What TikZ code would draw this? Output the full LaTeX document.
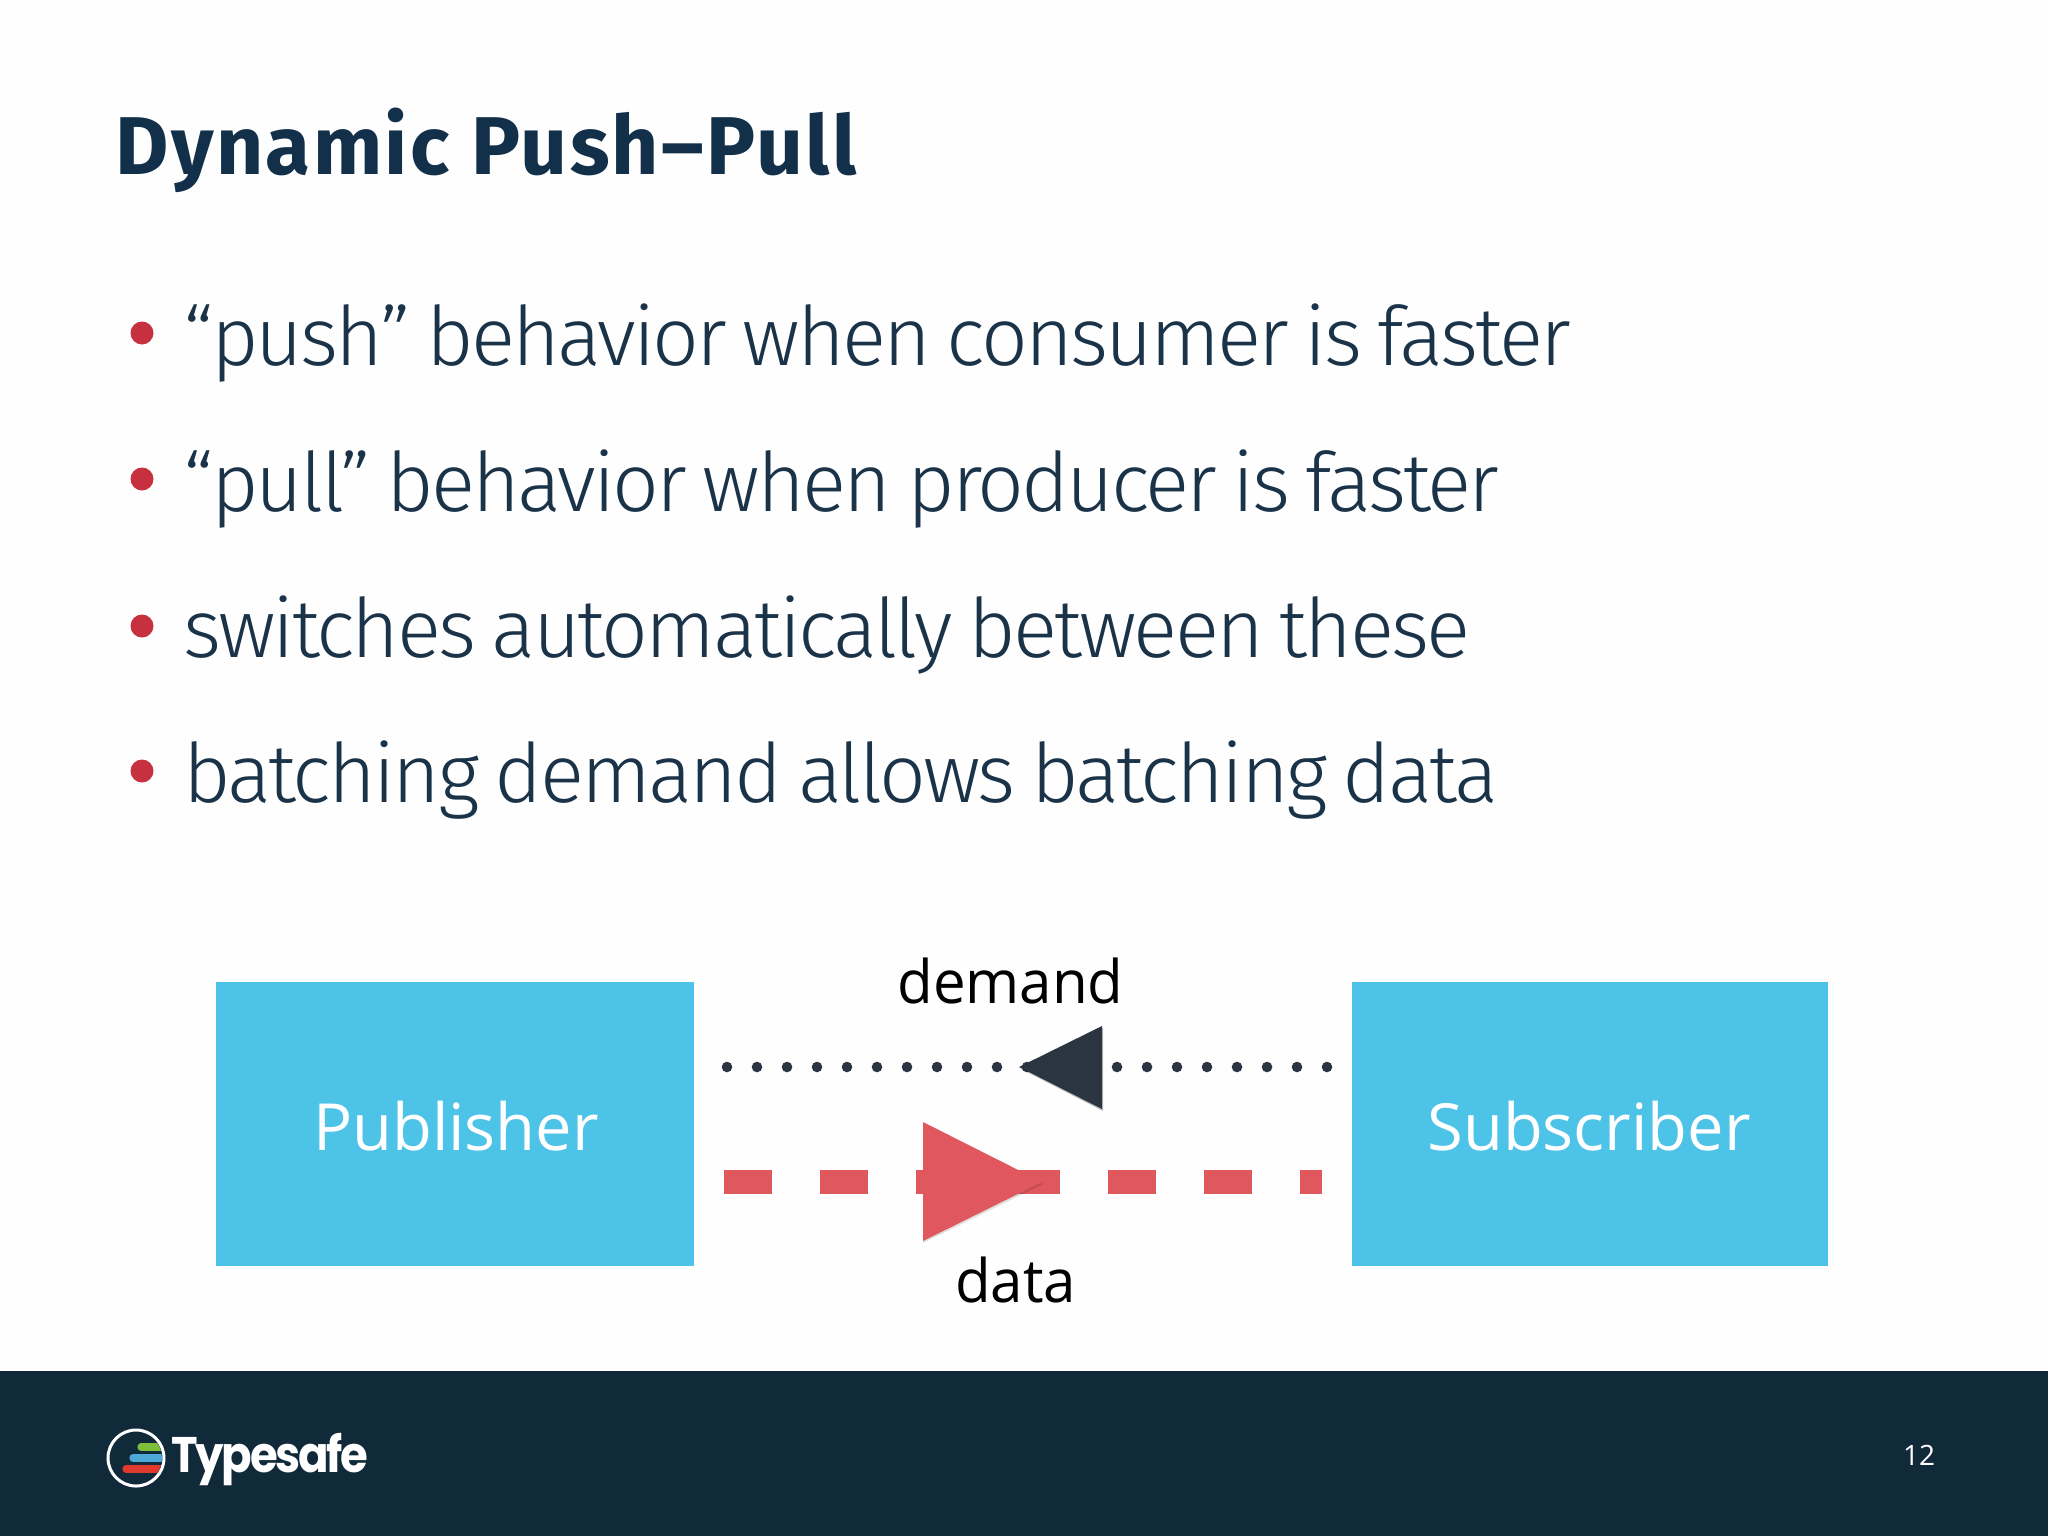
\documentclass[tikz,border=0pt]{standalone}
\usepackage{fontspec}
\setmainfont{Open Sans}
\newfontfamily\bodyfont[LetterSpace=-3.4,WordSpace=0.78]{Fira Sans Light}
\newfontfamily\titlefont[LetterSpace=2.9]{Fira Sans}
\newfontfamily\labelfont{Open Sans}
\newfontfamily\logofont[LetterSpace=-5]{Poppins}
\definecolor{navy}{HTML}{112A3A}
\definecolor{titlecol}{HTML}{13304A}
\definecolor{bodycol}{HTML}{1A3349}
\definecolor{bulletcol}{HTML}{C7303E}
\definecolor{boxcol}{HTML}{4DC3E8}
\definecolor{redcol}{HTML}{E0585D}
\definecolor{darkcol}{HTML}{2B3542}
\definecolor{logogreen}{HTML}{7DBF3A}
\definecolor{logoblue}{HTML}{4DA8D8}
\definecolor{logored}{HTML}{E03A2F}
\tikzset{
  x=0.5pt,y=-0.5pt,
  bodyline/.style={anchor=base west,inner sep=0pt,text=bodycol,font=\bodyfont\fontsize{41}{41}\selectfont},
  bulletdot/.style={circle,fill=bulletcol,inner sep=0pt,minimum size=11.5pt},
  actor/.style={fill=boxcol,inner sep=0pt},
  actorlabel/.style={anchor=base,inner sep=0pt,text=white,font=\labelfont\fontsize{32.5}{33}\selectfont},
  linklabel/.style={inner sep=0pt,anchor=base,text=black,font=\labelfont\fontsize{30}{30}\selectfont},
  demandline/.style={draw=darkcol,line width=5.3pt,line cap=round,dash pattern=on 0pt off 15pt},
  dataline/.style={draw=redcol,line width=12pt,dash pattern=on 24pt off 24pt},
}
\begin{document}
\begin{tikzpicture}
\useasboundingbox (0,0) rectangle (2048,1536);
\fill[white!99.6!black] (0,0) rectangle (2048,1536);
\fill[navy] (0,1371) rectangle (2048,1536);

\node[anchor=base west,inner sep=0pt,text=titlecol,font=\titlefont\bfseries\fontsize{41}{41}\selectfont] (title) at (115,174) {Dynamic Push–Pull};

\node[bulletdot] (b1) at (142,333) {};
\node[bulletdot] (b2) at (142,479) {};
\node[bulletdot] (b3) at (142,626) {};
\node[bulletdot] (b4) at (142,771) {};
\node[bodyline] (t1) at (183,365) {“push” behavior when consumer is faster};
\node[bodyline] (t2) at (183,511) {“pull” behavior when producer is faster};
\node[bodyline] (t3) at (183,657) {switches automatically between these};
\node[bodyline] (t4) at (183,802) {batching demand allows batching data};

\node[actor,minimum width=239pt,minimum height=142pt] (pub) at (455,1124) {};
\node[actor,minimum width=238pt,minimum height=142pt] (sub) at (1590,1124) {};
\node[actorlabel] (publabel) at (456,1150) {Publisher};
\node[actorlabel] (sublabel) at (1589,1150) {Subscriber};

\coordinate (dL) at (727,1067);
\coordinate (dR) at (1328,1067);
\coordinate (rL) at (724,1182);
\coordinate (rR) at (1322,1182);
\draw[demandline] (dL) -- (dR);
\draw[dataline] (rL) -- (rR);

\fill[black,opacity=.25] (1021,1069) -- (1103,1028) -- (1103,1111) -- cycle;
\fill[darkcol] (1019,1067) -- (1102,1026) -- (1102,1109) -- cycle;
\fill[black,opacity=.12] (923,1124) -- (1043,1184) -- (923,1243) -- cycle;
\fill[redcol] (923,1122) -- (1042,1182) -- (923,1241) -- cycle;

\node[linklabel] (demand) at (1010.5,1003) {\scalebox{0.97}[1]{demand}};
\node[linklabel] (data) at (1015.5,1302) {\scalebox{0.97}[1]{data}};

% logo
\draw[white,line width=1.5pt] (136,1458) circle (28);
\begin{scope}
\clip (136,1458) circle (26);
\draw[logogreen,line width=3.6pt,line cap=round] (141,1447) -- (175,1447);
\draw[logoblue,line width=3.6pt,line cap=round] (133,1458) -- (175,1458);
\draw[logored,line width=3.6pt,line cap=round] (126,1469) -- (175,1469);
\end{scope}
\node[anchor=base west,inner sep=0pt,text=white,font=\logofont\bfseries\fontsize{25}{25}\selectfont] (logotext) at (171,1472) {\scalebox{0.9}[1]{Typesafe}};
\node[anchor=base,inner sep=0pt,text=white,font=\labelfont\fontsize{14}{14}\selectfont] (pageno) at (1919,1465) {12};
\end{tikzpicture}
\end{document}
